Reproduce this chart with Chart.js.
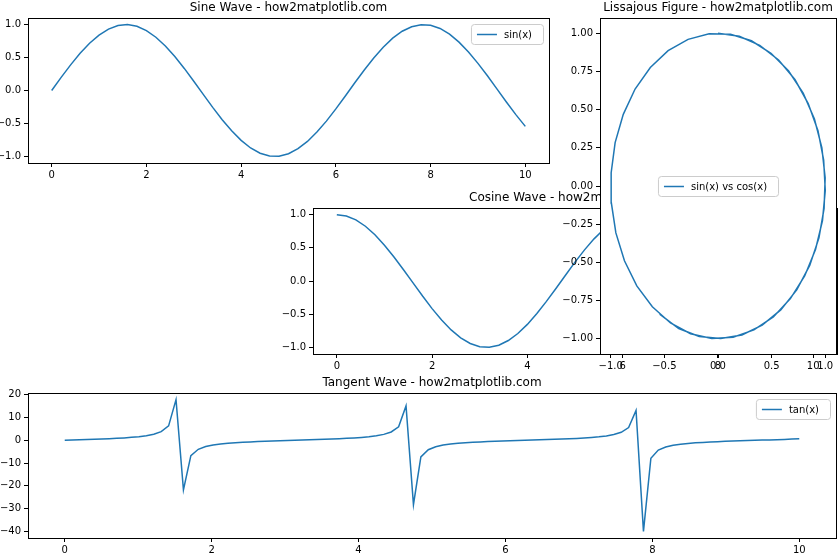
<!DOCTYPE html>
<html><head><meta charset="utf-8">
<script src="https://cdn.jsdelivr.net/npm/chart.js@4/dist/chart.umd.min.js"></script>
<style>
html,body{margin:0;padding:0;background:#fff;overflow:hidden;width:840px;height:560px;position:relative}
canvas{position:absolute}
</style></head><body>
<canvas id="cCos"></canvas>
<canvas id="cSin"></canvas>
<canvas id="cLis"></canvas>
<canvas id="cTan"></canvas>
<script>
// x grid with step 0.2 for sine / cosine / lissajous
const xs02 = Array.from({length:51},(_, i)=>+(i*0.2).toFixed(1));
const sinVals = [0,.199,.389,.565,.717,.841,.932,.985,1.000,.974,.909,.808,.675,.516,.335,.141,-.058,-.256,-.443,-.612,-.757,-.872,-.952,-.994,-.996,-.959,-.883,-.773,-.631,-.465,-.279,-.083,.117,.312,.494,.657,.794,.899,.968,.999,.989,.941,.855,.734,.585,.412,.223,.025,-.175,-.366,-.544];
const cosVals = [1,.980,.921,.825,.697,.540,.362,.170,-.029,-.227,-.416,-.589,-.737,-.857,-.942,-.990,-.998,-.967,-.897,-.791,-.654,-.490,-.307,-.112,.087,.284,.469,.635,.776,.886,.960,.997,.993,.951,.869,.754,.608,.439,.251,.054,-.146,-.340,-.520,-.680,-.811,-.911,-.975,-.999,-.985,-.933,-.839];
// 100-sample grid for tangent
const xs100 = Array.from({length:100},(_, i)=>i*10/99);
const tanVals = [0,.101,.205,.313,.428,.552,.693,.854,1.05,1.29,1.59,2.02,2.67,3.79,6.33,17.9,-21.8,-6.79,-3.97,-2.73,-2.06,-1.63,-1.31,-1.07,-.875,-.71,-.567,-.44,-.325,-.216,-.112,-.010,.091,.194,.301,.415,.539,.677,.837,1.03,1.26,1.56,1.97,2.59,3.65,5.94,15.1,-28.3,-7.33,-4.15,-2.84,-2.13,-1.67,-1.34,-1.09,-.89,-.73,-.58,-.455,-.33,-.225,-.122,-.020,.081,.183,.289,.40,.525,.66,.82,1.01,1.23,1.52,1.92,2.52,3.52,5.59,13.1,-40.1,-7.90,-4.33,-2.94,-2.21,-1.74,-1.40,-1.14,-.93,-.76,-.61,-.48,-.36,-.24,-.14,-.03,.07,.17,.28,.39,.51,.65];

const xTicks10 = [0,2,4,6,8,10];
const yTicksUnit = [-1,-0.5,0,0.5,1];
const lisXTicks = [-1,-0.5,0,0.5,1];
const lisYTicks = [-1,-0.75,-0.5,-0.25,0,0.25,0.5,0.75,1];
const tanYTicks = [-40,-30,-20,-10,0,10,20];

const BLUE = '#1f77b4';
const FONT = 'DejaVu Sans';
const fmt = (d)=> v => (v<0?'\u2212':'') + Math.abs(v).toFixed(d);

const frame = {
  id:'frame',
  beforeDatasetsDraw(c){const a=c.chartArea,x=c.ctx;if(c.options.plugins.frame.bg){x.save();x.fillStyle='#fff';x.fillRect(a.left,a.top,a.right-a.left,a.bottom-a.top);x.restore();}},
  afterDraw(c){
    const a=c.chartArea,x=c.ctx,o=c.options.plugins.frame;
    x.save();x.strokeStyle='#000';x.lineWidth=1;
    x.strokeRect(Math.round(a.left)+0.5,Math.round(a.top)+0.5,Math.round(a.right-a.left),Math.round(a.bottom-a.top));
    x.fillStyle='#000';x.font='12px '+FONT;x.textAlign='center';x.textBaseline='bottom';
    x.fillText(o.title,(a.left+a.right)/2,a.top-4);
    // legend
    x.font='10px '+FONT;
    const tw=x.measureText(o.label).width, w=tw+44, h=20;
    let lx,ly;
    if(o.pos==='center'){lx=(a.left+a.right)/2-w/2;ly=(a.top+a.bottom)/2-h/2;}
    else {lx=a.right-6-w;ly=a.top+6;}
    x.fillStyle='rgba(255,255,255,0.85)';x.strokeStyle='#ccc';
    x.beginPath();x.roundRect(lx+0.5,ly+0.5,w,h,3);x.fill();x.stroke();
    x.strokeStyle=BLUE;x.lineWidth=1.5;x.beginPath();x.moveTo(lx+6,ly+h/2+0.5);x.lineTo(lx+26,ly+h/2+0.5);x.stroke();
    x.fillStyle='#000';x.textAlign='left';x.textBaseline='middle';x.fillText(o.label,lx+33,ly+h/2+1);
    x.restore();
  }
};

function make(id, L,T,W,H, area, data, xr, yr, xt, yt, xf, yf, opts){
  const cv=document.getElementById(id);
  cv.style.left=L+'px';cv.style.top=T+'px';cv.width=W;cv.height=H;cv.style.width=W+'px';cv.style.height=H+'px';
  const [x1,y1,x2,y2]=area;
  const grid={display:true,drawOnChartArea:false,drawTicks:true,tickLength:4,color:'#000'};
  new Chart(cv,{type:'line',data:{datasets:[{data,borderColor:BLUE,borderWidth:1.5,pointRadius:0,tension:0,fill:false}]},
    options:{responsive:false,animation:false,devicePixelRatio:1,
      layout:{padding:{top:y1-T,right:L+W-x2,left:0,bottom:0}},
      plugins:{legend:{display:false},tooltip:{enabled:false},frame:opts},
      scales:{
        x:{type:'linear',min:xr[0],max:xr[1],grid,border:{display:false},
          afterBuildTicks:s=>{s.ticks=xt.map(v=>({value:v}));},
          afterFit:s=>{s.height=T+H-y2;},
          ticks:{color:'#000',font:{family:FONT,size:10},padding:2,maxRotation:0,autoSkip:false,callback:xf}},
        y:{type:'linear',min:yr[0],max:yr[1],grid,border:{display:false},
          afterBuildTicks:s=>{s.ticks=yt.map(v=>({value:v}));},
          afterFit:s=>{s.width=x1-L;},
          ticks:{color:'#000',font:{family:FONT,size:10},padding:3,autoSkip:false,callback:yf}}
      }},plugins:[frame]});
}

const pts=(xa,ya)=>xa.map((x,i)=>({x,y:ya[i]}));

make('cSin',0,0,560,180,[28,18,549,163],pts(xs02,sinVals),[-0.5,10.5],[-1.1,1.1],xTicks10,yTicksUnit,fmt(0),fmt(1),
  {title:'Sine Wave - how2matplotlib.com',label:'sin(x)',pos:'tr'});
make('cCos',280,190,560,180,[313,208,837,354],pts(xs02,cosVals),[-0.5,10.5],[-1.1,1.1],xTicks10,yTicksUnit,fmt(0),fmt(1),
  {title:'Cosine Wave - how2matplotlib.com',label:'cos(x)',pos:'tr'});
make('cLis',560,0,280,372,[600,18,836,354],pts(sinVals,cosVals),[-1.1,1.1],[-1.1,1.1],lisXTicks,lisYTicks,fmt(1),fmt(2),
  {title:'Lissajous Figure - how2matplotlib.com',label:'sin(x) vs cos(x)',pos:'center',bg:true});
make('cTan',0,372,840,188,[28,393,836,538],pts(xs100,tanVals),[-0.5,10.5],[-43,20.8],xTicks10,tanYTicks,fmt(0),fmt(0),
  {title:'Tangent Wave - how2matplotlib.com',label:'tan(x)',pos:'tr'});
</script></body></html>
